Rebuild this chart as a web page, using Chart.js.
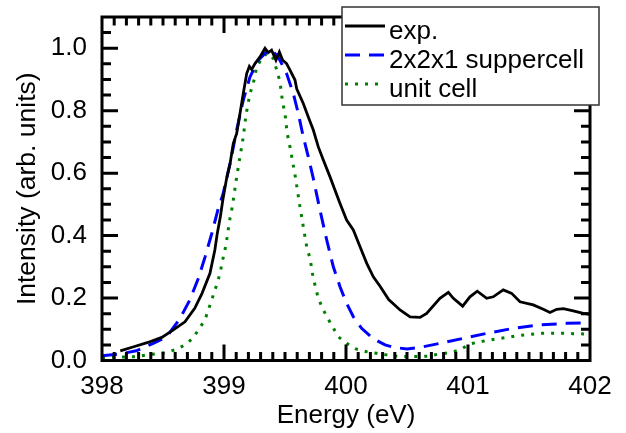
<!DOCTYPE html>
<html>
<head>
<meta charset="utf-8">
<script src="https://cdn.jsdelivr.net/npm/chart.js@4"></script>
<style>
    html, body { margin: 0; padding: 0; background: #fff; }
    #wrap { width: 626px; height: 433px; }
</style>
</head>
<body>
<div id="wrap"><canvas id="spectrum-chart"></canvas></div>
<script>
'use strict';

// exp. (black solid)
const expEnergy = [398.15, 398.26, 398.37, 398.49, 398.585, 398.68, 398.76, 398.82, 398.885, 398.925, 398.945, 398.97,
    398.99, 399.02, 399.05, 399.076, 399.104, 399.131, 399.158, 399.186, 399.208, 399.227, 399.254, 399.295, 399.336,
    399.363, 399.39, 399.426, 399.454, 399.48, 399.513, 399.541, 399.582, 399.596, 399.65, 399.691, 399.732, 399.773,
    399.814, 399.869, 399.951, 400.005, 400.06, 400.115, 400.17, 400.224, 400.279, 400.35, 400.443, 400.525, 400.607,
    400.661, 400.77, 400.839, 400.88, 400.956, 401.016, 401.076, 401.153, 401.207, 401.289, 401.358, 401.426, 401.535,
    401.617, 401.672, 401.727, 401.781, 401.863, 401.945, 402.0];
const expIntensity = [0.031, 0.044, 0.057, 0.074, 0.098, 0.124, 0.167, 0.215, 0.279, 0.354, 0.407, 0.46,
    0.513, 0.58, 0.631, 0.695, 0.727, 0.791, 0.855, 0.919, 0.942, 0.932, 0.951, 0.972, 1.0,
    0.986, 0.994, 0.962, 0.988, 0.962, 0.951, 0.93, 0.898, 0.87, 0.823, 0.78, 0.738, 0.684,
    0.642, 0.588, 0.503, 0.45, 0.418, 0.364, 0.311, 0.268, 0.238, 0.195, 0.162, 0.14, 0.138,
    0.151, 0.199, 0.218, 0.199, 0.174, 0.204, 0.222, 0.199, 0.204, 0.226, 0.215, 0.188, 0.178,
    0.164, 0.154, 0.164, 0.166, 0.159, 0.151, 0.148];

// 2x2x1 suppercell (blue dashed)
const superEnergy = [398.0, 398.15, 398.28, 398.42, 398.53, 398.64, 398.72, 398.79, 398.845, 398.9, 398.955, 398.99,
    399.05, 399.104, 399.158, 399.213, 399.281, 399.377, 399.445, 399.513, 399.568, 399.609, 399.65, 399.691,
    399.732, 399.787, 399.842, 399.896, 399.951, 400.005, 400.06, 400.128, 400.224, 400.32, 400.39, 400.5,
    400.607, 400.77, 400.962, 401.153, 401.371, 401.59, 401.809, 402.0];
const superIntensity = [0.015, 0.021, 0.031, 0.055, 0.076, 0.135, 0.194, 0.263, 0.332, 0.407, 0.49, 0.53,
    0.631, 0.738, 0.834, 0.908, 0.962, 0.999, 0.972, 0.919, 0.855, 0.791, 0.716, 0.652,
    0.583, 0.481, 0.386, 0.3, 0.236, 0.183, 0.14, 0.103, 0.07, 0.05, 0.042, 0.037,
    0.042, 0.055, 0.071, 0.087, 0.103, 0.114, 0.119, 0.121];

// unit cell (green dotted)
const unitEnergy = [398.0, 398.08, 398.257, 398.434, 398.53, 398.612, 398.689, 398.748, 398.798, 398.844, 398.899,
    398.926, 398.953, 398.973, 398.989, 399.008, 399.022, 399.035, 399.049, 399.068, 399.08, 399.104, 399.131,
    399.158, 399.18, 399.213, 399.24, 399.268, 399.309, 399.355, 399.404, 399.437, 399.459, 399.48, 399.5,
    399.518, 399.541, 399.563, 399.585, 399.61, 399.623, 399.65, 399.678, 399.705, 399.732, 399.773, 399.814,
    399.855, 399.937, 400.005, 400.082, 400.17, 400.25, 400.333, 400.415, 400.51, 400.675, 400.765, 400.852,
    400.934, 401.016, 401.098, 401.18, 401.268, 401.35, 401.44, 401.52, 401.61, 401.694, 401.78, 401.863,
    401.95, 402.0];
const unitIntensity = [0.008, 0.01, 0.012, 0.021, 0.026, 0.036, 0.052, 0.073, 0.103, 0.13, 0.194,
    0.226, 0.258, 0.29, 0.322, 0.354, 0.386, 0.42, 0.455, 0.492, 0.524, 0.588, 0.652,
    0.716, 0.786, 0.855, 0.887, 0.94, 0.967, 0.985, 0.967, 0.924, 0.892, 0.828, 0.791,
    0.727, 0.684, 0.635, 0.588, 0.524, 0.492, 0.428, 0.364, 0.327, 0.263, 0.199, 0.162,
    0.132, 0.076, 0.055, 0.037, 0.028, 0.023, 0.018, 0.014, 0.012, 0.014, 0.021, 0.025,
    0.034, 0.053, 0.06, 0.066, 0.071, 0.076, 0.081, 0.084, 0.087, 0.087, 0.087, 0.086,
    0.085, 0.085];

const seriesLabels = ['exp.', '2x2x1 suppercell', 'unit cell'];

const fontFamily = '"Liberation Sans", Arial, Helvetica, sans-serif';

function toPoints(xs, ys) {
    return xs.map((x, i) => ({x: x, y: ys[i]}));
}

// box frame with inward major/minor ticks on all four sides
const frameTicksPlugin = {
    id: 'frameTicks',
    afterDraw(chart) {
        const ctx = chart.ctx;
        const area = chart.chartArea;
        const xScale = chart.scales.x;
        const yScale = chart.scales.y;
        ctx.save();
        ctx.strokeStyle = '#000';
        ctx.lineWidth = 3;
        ctx.lineCap = 'butt';
        ctx.beginPath();
        for (let i = 1; i < 40; i++) {
            const px = xScale.getPixelForValue(398 + i * 0.1);
            const len = i % 10 === 0 ? 16 : 8.5;
            ctx.moveTo(px, area.bottom);
            ctx.lineTo(px, area.bottom - len);
            ctx.moveTo(px, area.top);
            ctx.lineTo(px, area.top + len);
        }
        for (let i = 1; i <= 21; i++) {
            const py = yScale.getPixelForValue(i * 0.05);
            const len = i % 4 === 0 ? 16 : 9;
            ctx.moveTo(area.left, py);
            ctx.lineTo(area.left + len, py);
            ctx.moveTo(area.right, py);
            ctx.lineTo(area.right - len, py);
        }
        ctx.stroke();
        ctx.strokeRect(area.left, area.top, area.right - area.left, area.bottom - area.top);
        ctx.restore();
    },
};

// boxed legend sitting over the top-right corner of the frame
const boxLegendPlugin = {
    id: 'boxLegend',
    afterDraw(chart) {
        const ctx = chart.ctx;
        const box = {left: 342, top: 7, width: 257, height: 98};
        ctx.save();
        ctx.fillStyle = '#fff';
        ctx.fillRect(box.left, box.top, box.width, box.height);
        ctx.strokeStyle = '#333';
        ctx.lineWidth = 1.5;
        ctx.strokeRect(box.left, box.top, box.width, box.height);
        ctx.font = '26px ' + fontFamily;
        ctx.textBaseline = 'alphabetic';
        ctx.textAlign = 'left';
        chart.data.datasets.forEach((ds, i) => {
            const baseline = 39 + i * 29;
            const sampleY = baseline - 13;
            ctx.strokeStyle = ds.borderColor;
            ctx.lineWidth = ds.borderWidth;
            ctx.lineCap = 'butt';
            ctx.setLineDash(ds.borderDash || []);
            ctx.beginPath();
            ctx.moveTo(345, sampleY);
            ctx.lineTo(385, sampleY);
            ctx.stroke();
            ctx.setLineDash([]);
            ctx.fillStyle = '#000';
            ctx.fillText(ds.label, 389, baseline);
        });
        ctx.restore();
    },
};

// invisible tick marks only reserve the gap between labels and the frame
const hiddenTickGrid = (len) => ({
    display: true,
    drawOnChartArea: false,
    drawTicks: true,
    tickLength: len,
    color: 'rgba(0,0,0,0)',
});

const spectrumChartElement = document.getElementById('spectrum-chart');
const spectrumChart = new Chart(spectrumChartElement, {
    type: 'line',
    data: {
        datasets: [
            {
                label: seriesLabels[0],
                data: toPoints(expEnergy, expIntensity),
                borderColor: '#000000',
                borderWidth: 2.8,
            },
            {
                label: seriesLabels[1],
                data: toPoints(superEnergy, superIntensity),
                borderColor: '#0000ff',
                borderWidth: 3,
                borderDash: [15, 9],
            },
            {
                label: seriesLabels[2],
                data: toPoints(unitEnergy, unitIntensity),
                borderColor: '#008000',
                borderWidth: 3,
                borderDash: [3, 7],
            },
        ],
    },
    options: {
        responsive: true,
        maintainAspectRatio: false,
        animation: false,
        devicePixelRatio: 1,
        elements: {
            point: { radius: 0 },
            line: { tension: 0, fill: false, borderCapStyle: 'butt' },
        },
        layout: {
            padding: { left: 0, right: 36, top: 17, bottom: 0 },
        },
        scales: {
            x: {
                type: 'linear',
                min: 398,
                max: 402,
                grid: hiddenTickGrid(11),
                border: { display: false },
                ticks: {
                    stepSize: 1,
                    padding: 0,
                    color: '#000',
                    font: { family: fontFamily, size: 26 },
                    callback: function (value) {
                        return String(value);
                    },
                },
                title: {
                    display: true,
                    text: 'Energy (eV)',
                    color: '#000',
                    font: { family: fontFamily, size: 26 },
                    padding: { top: 0, bottom: 2 },
                },
                afterFit: function (scale) {
                    scale.height = 72.5;
                },
            },
            y: {
                type: 'linear',
                min: 0,
                max: 1.1,
                grid: hiddenTickGrid(15),
                border: { display: false },
                ticks: {
                    stepSize: 0.2,
                    includeBounds: false,
                    padding: 0,
                    color: '#000',
                    font: { family: fontFamily, size: 26 },
                    callback: function (value) {
                        return value.toFixed(1);
                    },
                },
                title: {
                    display: true,
                    text: 'Intensity (arb. units)',
                    color: '#000',
                    font: { family: fontFamily, size: 26.5 },
                    padding: { top: 12, bottom: 0 },
                },
                afterFit: function (scale) {
                    scale.width = 102;
                },
            },
        },
        plugins: {
            legend: { display: false },
            tooltip: { enabled: false },
        },
    },
    plugins: [frameTicksPlugin, boxLegendPlugin],
});
</script>
</body>
</html>
